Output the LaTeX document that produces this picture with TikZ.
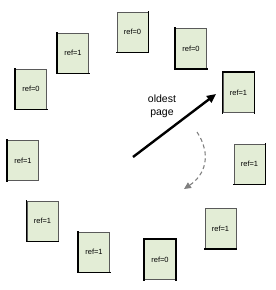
\documentclass[tikz,border=0pt]{standalone}
\usepackage{fontspec}
\setmainfont{Liberation Sans}
\usetikzlibrary{arrows.meta}
\definecolor{pagefill}{HTML}{E3EDD6}
\definecolor{pageedge}{HTML}{5A5A5A}
\begin{document}
\begin{tikzpicture}[x=1pt,y=-1pt,
  pg/.style={draw=pageedge,line width=0.7pt,fill=pagefill,minimum width=31pt,minimum height=40pt,inner sep=0pt,font=\fontsize{7.5}{8.5}\selectfont},
  thk/.style={draw=black,line width=1.4pt,line cap=rect},
  lbl/.style={font=\fontsize{10.5}{12.5}\selectfont,align=center,inner sep=0pt}]
\useasboundingbox (0,0) rectangle (276,290);
\node[pg] (p1) at (132.5,32) {ref=0};
\node[pg] (p2) at (73,53) {ref=1};
\node[pg] (p3) at (191,48.5) {ref=0};
\node[pg] (p4) at (31,89) {ref=0};
\node[pg] (p5) at (238.5,92.5) {ref=1};
\node[pg] (p6) at (23,160.5) {ref=1};
\node[pg] (p7) at (249.5,164) {ref=1};
\node[pg] (p8) at (42.5,221) {ref=1};
\node[pg] (p9) at (94,252) {ref=1};
\node[pg] (p10) at (160,259.5) {ref=0};
\node[pg] (p11) at (220.5,228.5) {ref=1};
% thick edges
\draw[thk] (p1.north east) -- (p1.south east) -- (p1.south west);
\draw[thk] (p2.north west) -- (p2.south west) -- (p2.south east);
\draw[thk] (p3.north west) -- (p3.south west) -- (p3.south east);
\draw[thk] (p4.north west) -- (p4.south west) -- (p4.south east);
\draw[thk] (p5.south west) -- (p5.north west) -- (p5.north east) -- (p5.south east);
\draw[thk] (p6.north west) -- (p6.south west);
\draw[thk] (p7.north east) -- (p7.south east) -- (p7.south west);
\draw[thk] (p8.north west) -- (p8.south west) -- (p8.south east);
\draw[thk] (p9.north west) -- (p9.south west) -- (p9.south east);
\draw[thk] (p10.south west) -- (p10.north west) -- (p10.north east) -- (p10.south east);
\draw[thk] (p11.south west) -- (p11.south east);
% label and arrows
\node[lbl] (lab) at (162,106.5) {oldest\\page};
\coordinate (tail) at (133,157);
\coordinate (tip) at (216,94);
\draw[line width=2.4pt,-{Triangle[length=9pt,width=8pt]}] (tail) -- (tip);
\coordinate (ds) at (197,132);
\coordinate (de) at (184,189);
\draw[gray,line width=1.1pt,dash pattern=on 4pt off 3pt,-{Triangle[length=7pt,width=6.5pt]}]
  (ds) .. controls (212,155) and (205,175) .. (de);
\end{tikzpicture}
\end{document}
